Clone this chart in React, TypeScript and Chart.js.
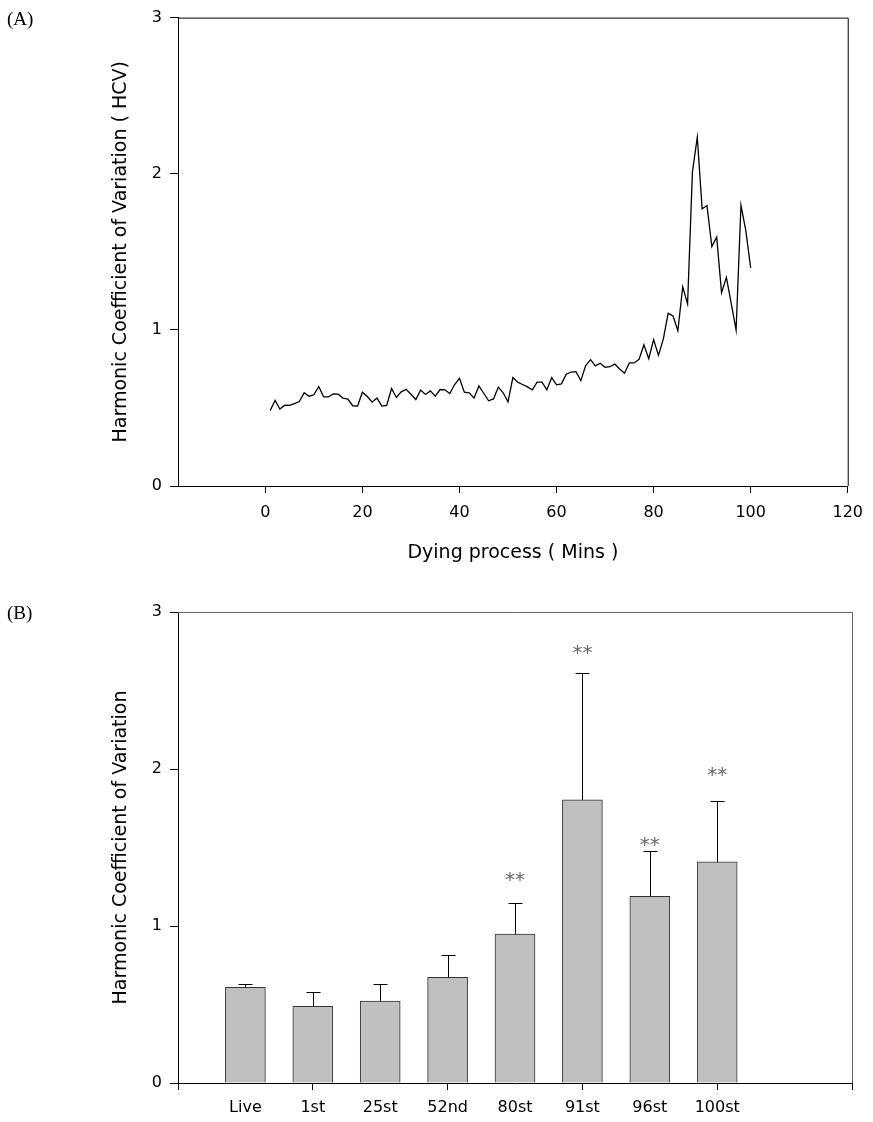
import React, { useEffect, useRef } from 'react';
import { Chart, registerables } from 'chart.js';

Chart.register(...registerables);

// ---------- Data: panel A (HCV over the dying process, one value per minute, starting at minute 1) ----------
const firstMinute = 1;
const hcvValues = [
  0.484, 0.548, 0.493, 0.518, 0.516, 0.528, 0.541, 0.597, 0.575, 0.584,
  0.637, 0.571, 0.571, 0.590, 0.588, 0.563, 0.556, 0.514, 0.512, 0.601,
  0.573, 0.537, 0.563, 0.512, 0.516, 0.624, 0.567, 0.603, 0.620, 0.588,
  0.554, 0.614, 0.586, 0.609, 0.575, 0.618, 0.616, 0.592, 0.650, 0.690,
  0.601, 0.597, 0.563, 0.641, 0.594, 0.546, 0.558, 0.633, 0.597, 0.539,
  0.694, 0.665, 0.650, 0.635, 0.616, 0.665, 0.665, 0.616, 0.694, 0.648,
  0.654, 0.716, 0.730, 0.732, 0.675, 0.771, 0.809, 0.769, 0.786, 0.760,
  0.764, 0.781, 0.749, 0.722, 0.788, 0.788, 0.811, 0.904, 0.815, 0.938,
  0.837, 0.941, 1.106, 1.089, 0.994, 1.276, 1.166, 2.013, 2.234, 1.775,
  1.796, 1.533, 1.594, 1.238, 1.336, 1.168, 0.998, 1.798, 1.635, 1.397,
];
const xTicksA = [0, 20, 40, 60, 80, 100, 120];
const yTicks = [0, 1, 2, 3];

// ---------- Data: panel B (bar means with upper error bars) ----------
const categories = ['Live', '1st', '25st', '52nd', '80st', '91st', '96st', '100st'];
const barMeans = [0.61, 0.489, 0.522, 0.673, 0.949, 1.803, 1.189, 1.408];
const barErrors = [0.019, 0.091, 0.11, 0.142, 0.196, 0.811, 0.291, 0.386];
const significance = ['', '', '', '', '**', '**', '**', '**'];
const starLevels = [null, null, null, null, 1.331, 2.777, 1.554, 2.0];
const xTicksB = [0, 1, 2, 3, 4, 5, 6, 7, 8, 9, 10];

const SANS = "'DejaVu Sans', Verdana, sans-serif";
const tickFont = { family: SANS, size: 16 };
const titleFont = { family: SANS, size: 19 };

const framePlugin = {
  id: 'frame',
  afterDraw(chart: any, _args: any, opts: any) {
    const { ctx, chartArea } = chart;
    ctx.save();
    ctx.strokeStyle = opts.color || '#000';
    ctx.lineWidth = opts.width || 1;
    ctx.beginPath();
    ctx.moveTo(chartArea.left, chartArea.top + 0.5);
    ctx.lineTo(chartArea.right + 0.5, chartArea.top + 0.5);
    ctx.lineTo(chartArea.right + 0.5, chartArea.bottom);
    ctx.stroke();
    ctx.restore();
  },
};

const errorPlugin = {
  id: 'errorBars',
  afterDatasetsDraw(chart: any) {
    const { ctx } = chart;
    const xs = chart.scales.x;
    const ys = chart.scales.y;
    ctx.save();
    ctx.strokeStyle = '#000';
    ctx.lineWidth = 1;
    barMeans.forEach((m, i) => {
      const x = Math.round(xs.getPixelForValue(i + 1)) + 0.5;
      const yb = ys.getPixelForValue(m);
      const yt = Math.round(ys.getPixelForValue(m + barErrors[i])) + 0.5;
      ctx.beginPath();
      ctx.moveTo(x, yb);
      ctx.lineTo(x, yt);
      ctx.moveTo(x - 7, yt);
      ctx.lineTo(x + 7, yt);
      ctx.stroke();
    });
    ctx.fillStyle = '#666';
    ctx.font = `20px ${SANS}`;
    ctx.textAlign = 'center';
    ctx.textBaseline = 'alphabetic';
    significance.forEach((s, i) => {
      const lvl = starLevels[i];
      if (!s || lvl === null) return;
      ctx.fillText(s, xs.getPixelForValue(i + 1), ys.getPixelForValue(lvl) + 12);
    });
    ctx.restore();
  },
};

function yAxis(title: string) {
  return {
    min: 0,
    max: 3,
    afterBuildTicks: (s: any) => { s.ticks = yTicks.map((v) => ({ value: v })); },
    afterFit: (s: any) => { s.width = 178; },
    grid: { drawOnChartArea: false, tickLength: 8, color: '#000', tickWidth: 1 },
    border: { display: true, color: '#000', width: 1 },
    ticks: { font: tickFont, color: '#000', padding: 8 },
    title: { display: true, text: title, font: titleFont, color: '#000', padding: { top: 110, bottom: 0 } },
  };
}

function makeConfigA(): any {
  return {
    type: 'line',
    data: {
      datasets: [{
        data: hcvValues.map((y, i) => ({ x: firstMinute + i, y })),
        borderColor: '#000',
        borderWidth: 1.3,
        pointRadius: 0,
        tension: 0,
        fill: false,
      }],
    },
    options: {
      animation: false,
      responsive: false,
      devicePixelRatio: 1,
      layout: { padding: { top: 15, right: 21, bottom: 0, left: 0 } },
      plugins: { legend: { display: false }, tooltip: { enabled: false }, frame: { color: '#000', width: 1 } },
      scales: {
        x: {
          type: 'linear',
          min: -18,
          max: 120,
          afterBuildTicks: (s: any) => { s.ticks = xTicksA.map((v) => ({ value: v })); },
          afterFit: (s: any) => { s.height = 94; },
          grid: { drawOnChartArea: false, tickLength: 7, color: '#000' },
          border: { display: true, color: '#000', width: 1 },
          ticks: { font: tickFont, color: '#000', padding: 10, maxRotation: 0, autoSkip: false },
          title: { display: true, text: 'Dying process ( Mins )', font: titleFont, color: '#000', padding: { top: 0, bottom: 16 } },
        },
        y: yAxis('Harmonic Coefficient of Variation ( HCV)'),
      },
    },
    plugins: [framePlugin],
  };
}

function makeConfigB(): any {
  return {
    type: 'bar',
    data: {
      datasets: [{
        data: barMeans.map((y, i) => ({ x: i + 1, y })),
        backgroundColor: '#c0c0c0',
        borderColor: '#333',
        borderWidth: 1,
        barThickness: 40,
      }],
    },
    options: {
      animation: false,
      responsive: false,
      devicePixelRatio: 1,
      layout: { padding: { top: 32, right: 21, bottom: 0, left: 0 } },
      plugins: { legend: { display: false }, tooltip: { enabled: false }, frame: { color: '#666', width: 1 } },
      scales: {
        x: {
          type: 'linear',
          min: 0,
          max: 10,
          offset: false,
          afterBuildTicks: (s: any) => { s.ticks = xTicksB.map((v) => ({ value: v })); },
          afterFit: (s: any) => { s.height = 39; },
          grid: {
            drawOnChartArea: false,
            offset: false,
            tickLength: 7,
            color: '#000',
            tickColor: (c: any) => (c.tick && c.tick.value % 2 === 0 ? '#000' : 'rgba(0,0,0,0)'),
          },
          border: { display: true, color: '#000', width: 1 },
          ticks: {
            font: tickFont,
            color: '#000',
            padding: 8,
            maxRotation: 0,
            autoSkip: false,
            callback: (v: any) => categories[Number(v) - 1] ?? '',
          },
        },
        y: yAxis('Harmonic Coefficient of Variation'),
      },
    },
    plugins: [framePlugin, errorPlugin],
  };
}

export default function App() {
  const refA = useRef<HTMLCanvasElement>(null);
  const refB = useRef<HTMLCanvasElement>(null);
  useEffect(() => {
    const a = new Chart(refA.current as HTMLCanvasElement, makeConfigA());
    const b = new Chart(refB.current as HTMLCanvasElement, makeConfigB());
    return () => { a.destroy(); b.destroy(); };
  }, []);
  const panelLabel: React.CSSProperties = {
    position: 'absolute',
    left: 7,
    font: "19px 'Liberation Serif', 'Times New Roman', serif",
    color: '#000',
    zIndex: 2,
    lineHeight: '20px',
  };
  return (
    <div style={{ position: 'fixed', left: 0, top: 0, width: 873, height: 1122, background: '#fff' }}>
      <canvas ref={refA} width={873} height={580} style={{ position: 'absolute', left: 0, top: 0, width: 873, height: 580 }} />
      <canvas ref={refB} width={873} height={542} style={{ position: 'absolute', left: 0, top: 580, width: 873, height: 542 }} />
      <div style={{ ...panelLabel, top: 9 }}>(A)</div>
      <div style={{ ...panelLabel, top: 603 }}>(B)</div>
    </div>
  );
}
